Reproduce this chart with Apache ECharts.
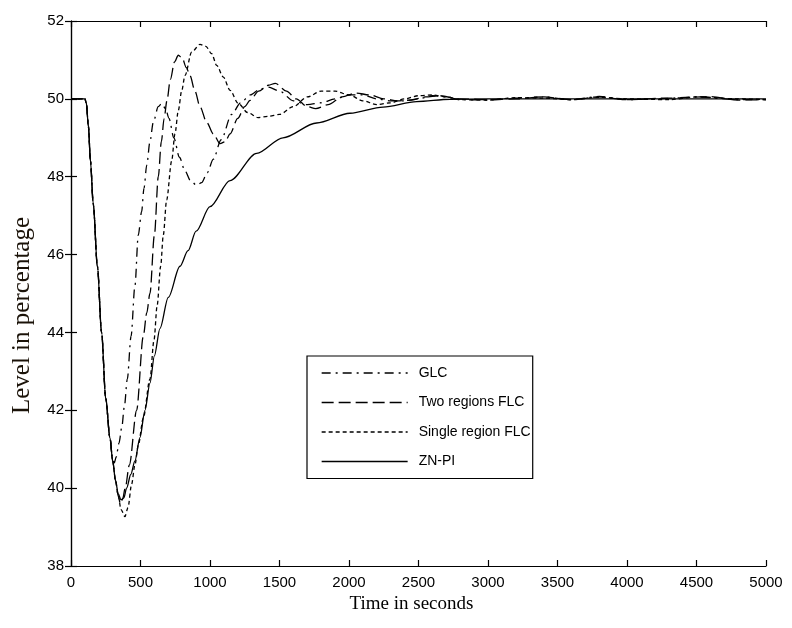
<!DOCTYPE html>
<html>
<head>
<meta charset="utf-8">
<script src="https://cdn.jsdelivr.net/npm/echarts@6/dist/echarts.min.js"></script>
<style>
html,body{margin:0;padding:0;background:#fff;}
#chart{width:792px;height:628px;}
</style>
</head>
<body>
<div id="chart"></div>
<script>
// ---- data (time in seconds, level in percentage) ----
const seriesNames = ['GLC', 'Two regions FLC', 'Single region FLC', 'ZN-PI'];
const xTicks = [0, 500, 1000, 1500, 2000, 2500, 3000, 3500, 4000, 4500, 5000];
const yTicks = [38, 40, 42, 44, 46, 48, 50, 52];

const glcT = [0,100,110,125,140,160,190,220,250,280,300,312,325,345,365,384,405,432,460,484,508,525,545,568,592,628,652,680,705,740,780,820,860,904,940,980,1024,1080,1156,1220,1290,1360,1420,1500,1600,1700,1800,1900,2000,2100,2200,2300,2400,2500,2600,2700,2800,3000,3200,3400,3600,3800,4000,4200,4500,4800,5000];
const glcV = [50,50,49.9,49.3,48.4,47.3,45.7,44.0,42.3,41.3,40.75,40.65,40.8,41.15,41.55,42.1,42.8,43.9,45.2,46.5,47.1,47.7,48.3,48.9,49.4,49.8,49.88,49.75,49.5,49.0,48.5,48.15,47.9,47.78,47.85,48.1,48.45,48.95,49.6,49.9,50.1,50.25,50.3,50.2,49.95,49.85,49.9,50.0,50.1,50.1,50.0,49.95,49.95,50.0,50.08,50.05,49.98,49.97,50.02,50.05,49.98,50.06,49.98,50.0,50.05,49.98,49.98];

const twoT = [0,100,110,125,140,160,190,220,250,280,300,320,340,355,370,390,420,472,520,545,568,600,628,650,670,690,715,745,772,800,830,856,892,928,976,1024,1072,1110,1144,1200,1250,1288,1350,1420,1470,1550,1620,1700,1760,1850,1950,2050,2150,2250,2350,2450,2550,2650,2800,3000,3200,3400,3600,3800,4000,4300,4600,4800,5000];
const twoV = [50,50,49.9,49.3,48.4,47.3,45.7,44.0,42.3,41.3,40.7,40.2,39.8,39.6,39.7,40.0,40.6,42.0,43.9,44.5,45.0,46.5,48.0,48.9,49.5,49.95,50.5,50.95,51.12,51.05,50.8,50.6,50.2,49.8,49.4,49.1,48.85,48.9,49.1,49.5,49.8,49.96,50.2,50.35,50.4,50.2,50.0,49.8,49.75,49.85,50.05,50.15,50.1,50.0,49.95,49.97,50.05,50.08,50.0,49.98,50.0,50.05,49.98,50.05,49.98,50.02,50.06,49.97,49.98];

const singleT = [0,100,110,125,140,160,190,220,250,280,300,320,340,360,388,410,436,460,484,520,568,597,620,645,664,688,724,748,772,796,820,868,928,970,1012,1048,1096,1144,1204,1270,1345,1420,1500,1600,1700,1800,1900,2000,2100,2200,2300,2400,2500,2600,2700,2800,3000,3200,3400,3600,3800,4000,4300,4500,4800,5000];
const singleV = [50,50,49.9,49.3,48.4,47.3,45.7,44.0,42.3,41.3,40.7,40.2,39.8,39.45,39.27,39.5,40.1,40.6,41.1,41.8,42.8,43.8,44.7,45.7,46.5,47.4,48.4,49.1,49.7,50.2,50.6,51.2,51.4,51.35,51.16,50.86,50.56,50.22,49.88,49.65,49.52,49.55,49.6,49.8,50.05,50.2,50.2,50.1,49.95,49.85,49.9,50.0,50.08,50.1,50.05,49.98,49.97,50.03,50.02,49.98,50.04,50.0,49.98,50.05,50.0,49.98];

const znT = [0,100,110,125,140,160,190,220,250,280,300,320,340,360,380,400,430,460,496,532,568,600,640,700,784,842,900,1000,1144,1336,1525,1767,2007,2245,2487,2727,3000,3500,4000,4500,5000];
const znV = [50,50,49.9,49.3,48.4,47.3,45.7,44.0,42.3,41.3,40.7,40.2,39.85,39.7,39.75,40.0,40.35,40.7,41.3,42.0,42.7,43.4,44.1,44.9,45.7,46.1,46.6,47.23,47.9,48.6,49.0,49.38,49.63,49.79,49.93,49.99,50.0,50.0,50.0,50.0,50.0];

const zip = (t, v) => t.map((x, i) => [x, v[i]]);
const seriesData = [zip(glcT, glcV), zip(twoT, twoV), zip(singleT, singleV), zip(znT, znV)];
const dashTypes = [[9,5,2,5], [12,5], [4,3], 'solid'];

const chart = echarts.init(document.getElementById('chart'), null, {renderer: 'canvas'});
const tickFont = {fontFamily: 'Liberation Sans, Arial, sans-serif', fontSize: 15, color: '#000'};
const axisCommon = {
  axisLine: {show: true, lineStyle: {color: '#000', width: 1.2}},
  axisTick: {show: true, inside: true, length: 6, lineStyle: {color: '#000', width: 1.2}},
  splitLine: {show: false}
};

chart.setOption({
  animation: false,
  backgroundColor: '#fff',
  grid: {left: 71, right: 26, top: 21, bottom: 62, containLabel: false},
  xAxis: [
    Object.assign({
      type: 'value', min: 0, max: 5000, interval: 500, position: 'bottom',
      name: 'Time in seconds', nameLocation: 'middle', nameGap: 29,
      nameTextStyle: {fontFamily: 'Liberation Serif, Times New Roman, serif', fontSize: 19, color: '#000', padding: [0, 14, 0, 0]},
      axisLabel: Object.assign({margin: 9, formatter: v => String(v)}, tickFont)
    }, axisCommon),
    Object.assign({
      type: 'value', min: 0, max: 5000, interval: 500, position: 'top',
      axisLabel: {show: false}
    }, axisCommon)
  ],
  yAxis: [
    Object.assign({
      type: 'value', min: 38, max: 52, interval: 2, position: 'left',
      name: 'Level in percentage', nameLocation: 'middle', nameGap: 36, nameRotate: 90,
      nameTextStyle: {fontFamily: 'Liberation Serif, Times New Roman, serif', fontSize: 25, color: '#1a1208', padding: [0, 44, 0, 0]},
      axisLabel: Object.assign({margin: 7}, tickFont)
    }, axisCommon),
    Object.assign({
      type: 'value', min: 38, max: 52, interval: 2, position: 'right',
      axisLabel: {show: false}
    }, axisCommon)
  ],
  legend: {
    orient: 'vertical', left: 307, top: 356,
    data: seriesNames,
    backgroundColor: '#fff',
    borderColor: '#000', borderWidth: 1.2,
    padding: [10, 2, 10, 14],
    itemWidth: 86, itemHeight: 14, itemGap: 15.5,
    textStyle: {fontFamily: 'Liberation Sans, Arial, sans-serif', fontSize: 14, color: '#000', padding: [0, 0, 0, 6]},
    lineStyle: {width: 1.3},
    itemStyle: {color: 'rgba(0,0,0,0)', borderWidth: 0, opacity: 0}
  },
  series: seriesNames.map((name, i) => ({
    name: name,
    type: 'line',
    data: seriesData[i],
    symbol: 'none',
    smooth: 0.3,
    smoothMonotone: 'x',
    xAxisIndex: 0, yAxisIndex: 0,
    lineStyle: {color: '#000', width: 1.3, type: dashTypes[i]},
    itemStyle: {color: '#000'},
    z: 2
  }))
});
</script>
</body>
</html>
